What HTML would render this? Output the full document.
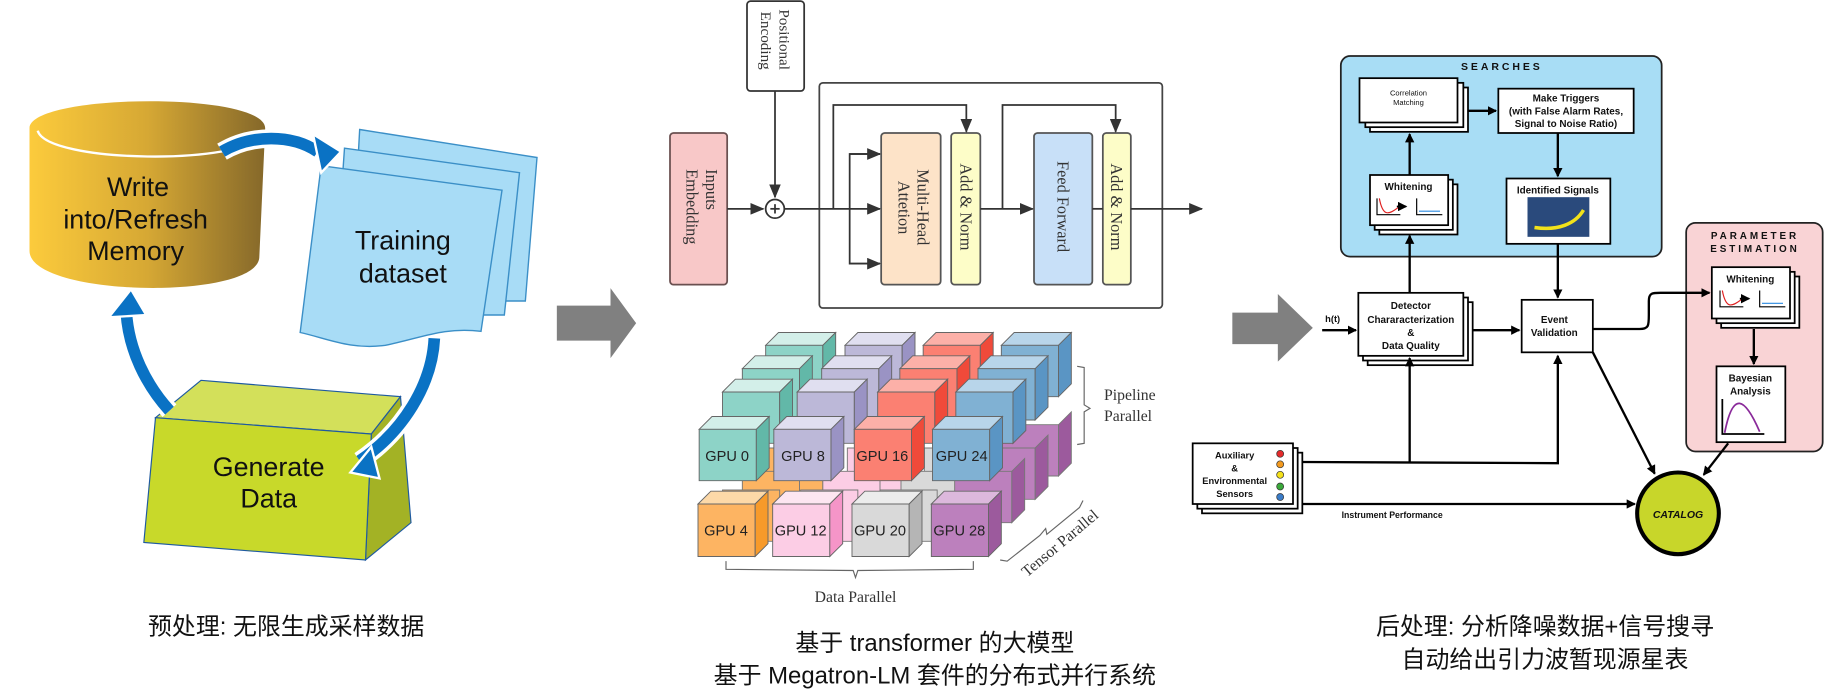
<!DOCTYPE html>
<html><head><meta charset="utf-8"><style>
html,body{margin:0;padding:0;background:#fff}
svg{display:block}
.cj{font-family:"Liberation Sans","Noto Sans CJK SC",sans-serif}
.sf{font-family:"Liberation Serif",serif}
.sa{font-family:"Liberation Sans",sans-serif}
</style></head><body>
<svg width="1830" height="700" viewBox="0 0 1568 600" xmlns="http://www.w3.org/2000/svg">
<defs>
<linearGradient id="gold" x1="0" x2="1" y1="0" y2="0"><stop offset="0" stop-color="#fccb3c"/><stop offset="0.5" stop-color="#d6a834"/><stop offset="1" stop-color="#85682a"/></linearGradient>
<marker id="ah" markerWidth="8" markerHeight="8" refX="7" refY="4" orient="auto" markerUnits="userSpaceOnUse"><path d="M0,0 L8,4 L0,8 z" fill="#000"/></marker>
<marker id="ag" markerWidth="12" markerHeight="10" refX="11" refY="5" orient="auto" markerUnits="userSpaceOnUse"><path d="M0,0 L12,5 L0,10 z" fill="#333"/></marker>
</defs>

<!-- LEFT PANEL -->
<path d="M25,110 C25,80 227,78 227,110 L222,220 C222,258 25,255 25,215 Z" fill="url(#gold)"/>
<path d="M32,112 C40,140 210,142 225,115" fill="none" stroke="#fff" stroke-width="2"/>
<g class="sa" font-size="23" fill="#111" text-anchor="middle">
<text x="118" y="168">Write</text><text x="116" y="196">into/Refresh</text><text x="116" y="223">Memory</text></g>

<g stroke="#3b8fc7" stroke-width="1.2" fill="#a8dcf6">
<path d="M308,111 L460,135 L450,258 L300,258 Z"/>
<path d="M295,127 L445,148 L432,270 L285,270 Z"/>
<path d="M275,142 L430,163 L412,284 C380,280 360,290 330,296 C300,300 280,290 257,285 Z"/>
</g>
<g class="sa" font-size="23" fill="#111" text-anchor="middle"><text x="345" y="214">Training</text><text x="345" y="242">dataset</text></g>

<path d="M133,358 L172,326 L343,340 L318,372 Z" fill="#d3e05a" stroke="#1f5aa0" stroke-width="1"/>
<path d="M318,372 L343,340 L352,448 L313,480 Z" fill="#a3b225" stroke="#1f5aa0" stroke-width="1"/>
<path d="M133,358 L318,372 L313,480 L123,465 Z" fill="#c8d92a" stroke="#1f5aa0" stroke-width="1"/>
<g class="sa" font-size="23" fill="#111" text-anchor="middle"><text x="230" y="408">Generate</text><text x="230" y="435">Data</text></g>

<!-- blue arrows -->
<g fill="none" stroke-linecap="butt">
<path d="M190,130 C215,115 250,115 272,130" stroke="#fff" stroke-width="16"/>
<path d="M190,130 C215,115 250,115 272,130" stroke="#0a72c4" stroke-width="10"/>
<path d="M372,290 C370,330 345,370 308,395" stroke="#fff" stroke-width="16"/>
<path d="M372,290 C370,330 345,370 308,395" stroke="#0a72c4" stroke-width="10"/>
<path d="M145,352 C125,330 110,300 108,268" stroke="#fff" stroke-width="16"/>
<path d="M145,352 C125,330 110,300 108,268" stroke="#0a72c4" stroke-width="10"/>
</g>
<path d="M268,115 L292,130 L275,148 Z" fill="#0a72c4" stroke="#fff" stroke-width="2"/>
<path d="M318,383 L300,405 L325,410 Z" fill="#0a72c4" stroke="#fff" stroke-width="2"/>
<path d="M93,272 L112,248 L125,270 Z" fill="#0a72c4" stroke="#fff" stroke-width="2"/>

<text class="cj" x="245" y="544" font-size="20.5" text-anchor="middle" fill="#111">预处理: 无限生成采样数据</text>

<!-- gray arrows -->
<path d="M477,262 L523,262 L523,247 L545,277 L523,307 L523,292 L477,292 Z" fill="#808080"/>
<path d="M1056,268 L1095,268 L1095,252 L1125,281 L1095,310 L1095,295 L1056,295 Z" fill="#808080"/>

<!-- MIDDLE: transformer -->
<rect x="640" y="1" width="49" height="77" rx="3" fill="#fff" stroke="#333" stroke-width="1.5"/>
<g class="sf" font-size="13" fill="#333"><text transform="translate(668,8) rotate(90)">Positional</text><text transform="translate(652,10) rotate(90)">Encoding</text></g>
<rect x="574" y="114" width="49" height="130" rx="3" fill="#f8c8c8" stroke="#6a5050" stroke-width="1.5"/>
<g class="sf" font-size="14" fill="#333"><text transform="translate(605,145) rotate(90)">Inputs</text><text transform="translate(588,145) rotate(90)">Embedding</text></g>
<rect x="702" y="71" width="294" height="193" rx="3" fill="none" stroke="#444" stroke-width="1.5"/>
<rect x="755" y="114" width="51" height="130" rx="3" fill="#fde3c8" stroke="#555" stroke-width="1.5"/>
<g class="sf" font-size="14" fill="#333"><text transform="translate(786,145) rotate(90)">Multi-Head</text><text transform="translate(770,155) rotate(90)">Attetion</text></g>
<rect x="815" y="114" width="25" height="130" rx="3" fill="#fdfdc8" stroke="#555" stroke-width="1.5"/>
<text class="sf" font-size="14" fill="#333" transform="translate(823,140) rotate(90)">Add &amp; Norm</text>
<rect x="886" y="114" width="50" height="130" rx="3" fill="#c8e0f8" stroke="#555" stroke-width="1.5"/>
<text class="sf" font-size="14" fill="#333" transform="translate(906,138) rotate(90)">Feed Forward</text>
<rect x="945" y="114" width="24" height="130" rx="3" fill="#fdfdc8" stroke="#555" stroke-width="1.5"/>
<text class="sf" font-size="14" fill="#333" transform="translate(952,140) rotate(90)">Add &amp; Norm</text>
<g stroke="#333" stroke-width="1.5" fill="none">
<line x1="664" y1="78" x2="664" y2="169" marker-end="url(#ag)"/>
<circle cx="664" cy="179" r="8" fill="#fff"/>
<line x1="660" y1="179" x2="668" y2="179"/><line x1="664" y1="175" x2="664" y2="183"/>
<line x1="623" y1="179" x2="654" y2="179" marker-end="url(#ag)"/>
<line x1="672" y1="179" x2="754" y2="179" marker-end="url(#ag)"/>
<polyline points="714,179 714,90 828,90 828,113" marker-end="url(#ag)"/>
<polyline points="754,132 728,132 728,226 754,226"/>
<line x1="728" y1="132" x2="754" y2="132" marker-end="url(#ag)"/>
<line x1="728" y1="226" x2="754" y2="226" marker-end="url(#ag)"/>
<line x1="840" y1="179" x2="885" y2="179" marker-end="url(#ag)"/>
<polyline points="859,179 859,90 956,90 956,113" marker-end="url(#ag)"/>
<line x1="936" y1="179" x2="945" y2="179"/>
<line x1="969" y1="179" x2="1030" y2="179" marker-end="url(#ag)"/>
</g>

<!-- GPU cubes -->
<g id="cubes" class="sa" font-size="12" text-anchor="middle" fill="#222" stroke-width="0.8">
<!-- bottom row back layers -->
<g stroke="#777">
<path d="M656,384 l49,0 0,44 -49,0z" fill="#fdb462"/><path d="M726,384 l49,0 0,44 -49,0z" fill="#fccde5"/><path d="M792,384 l49,0 0,44 -49,0z" fill="#d9d9d9"/><path d="M858,364 l49,0 0,44 -49,0z" fill="#bc80bd"/>
<path d="M636,404 l49,0 0,44 -49,0z" fill="#fdb462"/><path d="M705,404 l49,0 0,44 -49,0z" fill="#fccde5"/><path d="M772,404 l49,0 0,44 -49,0z" fill="#d9d9d9"/><path d="M838,384 l49,0 0,44 -49,0z" fill="#bc80bd"/>
<path d="M619,420 l49,0 0,44 -49,0z" fill="#fdb462"/><path d="M686,420 l49,0 0,44 -49,0z" fill="#fccde5"/><path d="M754,420 l49,0 0,44 -49,0z" fill="#d9d9d9"/><path d="M818,404 l49,0 0,44 -49,0z" fill="#bc80bd"/>
<path d="M907,364 l11,-11 0,44 -11,11z" fill="#9c5a9d"/><path d="M887,384 l11,-11 0,44 -11,11z" fill="#9c5a9d"/><path d="M867,404 l11,-11 0,44 -11,11z" fill="#9c5a9d"/>
</g>
</g>
<g class="sa" font-size="12.5" text-anchor="middle" fill="#222" stroke="#666" stroke-width="0.8">
<!-- top layers: layer offsets back to front -->
<!-- layer 3 -->
<path d="M656,296 l11,-11 49,0 -11,11z" fill="#d3efe9"/><path d="M656,296 l49,0 0,44 -49,0z" fill="#8dd3c7"/><path d="M705,296 l11,-11 0,44 -11,11z" fill="#62b8a8"/>
<path d="M724,296 l11,-11 49,0 -11,11z" fill="#e0dff0"/><path d="M724,296 l49,0 0,44 -49,0z" fill="#bcb8d8"/><path d="M773,296 l11,-11 0,44 -11,11z" fill="#9a93c4"/>
<path d="M791,296 l11,-11 49,0 -11,11z" fill="#fcb0a8"/><path d="M791,296 l49,0 0,44 -49,0z" fill="#fb8072"/><path d="M840,296 l11,-11 0,44 -11,11z" fill="#f04a3a"/>
<path d="M858,296 l11,-11 49,0 -11,11z" fill="#b8d5ea"/><path d="M858,296 l49,0 0,44 -49,0z" fill="#80b1d3"/><path d="M907,296 l11,-11 0,44 -11,11z" fill="#5a95c4"/>
<!-- layer 2 -->
<path d="M636,316 l11,-11 49,0 -11,11z" fill="#d3efe9"/><path d="M636,316 l49,0 0,44 -49,0z" fill="#8dd3c7"/><path d="M685,316 l11,-11 0,44 -11,11z" fill="#62b8a8"/>
<path d="M704,316 l11,-11 49,0 -11,11z" fill="#e0dff0"/><path d="M704,316 l49,0 0,44 -49,0z" fill="#bcb8d8"/><path d="M753,316 l11,-11 0,44 -11,11z" fill="#9a93c4"/>
<path d="M771,316 l11,-11 49,0 -11,11z" fill="#fcb0a8"/><path d="M771,316 l49,0 0,44 -49,0z" fill="#fb8072"/><path d="M820,316 l11,-11 0,44 -11,11z" fill="#f04a3a"/>
<path d="M838,316 l11,-11 49,0 -11,11z" fill="#b8d5ea"/><path d="M838,316 l49,0 0,44 -49,0z" fill="#80b1d3"/><path d="M887,316 l11,-11 0,44 -11,11z" fill="#5a95c4"/>
<!-- layer 1 -->
<path d="M619,336 l11,-11 49,0 -11,11z" fill="#d3efe9"/><path d="M619,336 l49,0 0,44 -49,0z" fill="#8dd3c7"/><path d="M668,336 l11,-11 0,44 -11,11z" fill="#62b8a8"/>
<path d="M683,336 l11,-11 49,0 -11,11z" fill="#e0dff0"/><path d="M683,336 l49,0 0,44 -49,0z" fill="#bcb8d8"/><path d="M732,336 l11,-11 0,44 -11,11z" fill="#9a93c4"/>
<path d="M752,336 l11,-11 49,0 -11,11z" fill="#fcb0a8"/><path d="M752,336 l49,0 0,44 -49,0z" fill="#fb8072"/><path d="M801,336 l11,-11 0,44 -11,11z" fill="#f04a3a"/>
<path d="M819,336 l11,-11 49,0 -11,11z" fill="#b8d5ea"/><path d="M819,336 l49,0 0,44 -49,0z" fill="#80b1d3"/><path d="M868,336 l11,-11 0,44 -11,11z" fill="#5a95c4"/>
<!-- front top row -->
<path d="M599,368 l11,-11 49,0 -11,11z" fill="#d3efe9"/><path d="M599,368 l49,0 0,44 -49,0z" fill="#8dd3c7"/><path d="M648,368 l11,-11 0,44 -11,11z" fill="#62b8a8"/>
<path d="M663,368 l11,-11 49,0 -11,11z" fill="#e0dff0"/><path d="M663,368 l49,0 0,44 -49,0z" fill="#bcb8d8"/><path d="M712,368 l11,-11 0,44 -11,11z" fill="#9a93c4"/>
<path d="M732,368 l11,-11 49,0 -11,11z" fill="#fcb0a8"/><path d="M732,368 l49,0 0,44 -49,0z" fill="#fb8072"/><path d="M781,368 l11,-11 0,44 -11,11z" fill="#f04a3a"/>
<path d="M799,368 l11,-11 49,0 -11,11z" fill="#b8d5ea"/><path d="M799,368 l49,0 0,44 -49,0z" fill="#80b1d3"/><path d="M848,368 l11,-11 0,44 -11,11z" fill="#5a95c4"/>
<!-- front bottom row -->
<path d="M598,432 l11,-11 49,0 -11,11z" fill="#fdd9a8"/><path d="M598,432 l49,0 0,45 -49,0z" fill="#fdb462"/><path d="M647,432 l11,-11 0,45 -11,11z" fill="#f79a2a"/>
<path d="M662,432 l11,-11 49,0 -11,11z" fill="#fde6f1"/><path d="M662,432 l49,0 0,45 -49,0z" fill="#fccde5"/><path d="M711,432 l11,-11 0,45 -11,11z" fill="#f595c8"/>
<path d="M730,432 l11,-11 49,0 -11,11z" fill="#ececec"/><path d="M730,432 l49,0 0,45 -49,0z" fill="#d9d9d9"/><path d="M779,432 l11,-11 0,45 -11,11z" fill="#b5b5b5"/>
<path d="M798,432 l11,-11 49,0 -11,11z" fill="#dcb8dc"/><path d="M798,432 l49,0 0,45 -49,0z" fill="#bc80bd"/><path d="M847,432 l11,-11 0,45 -11,11z" fill="#9c5a9d"/>
</g>
<g class="sa" font-size="12.5" text-anchor="middle" fill="#222">
<text x="623" y="395">GPU 0</text><text x="688" y="395">GPU 8</text><text x="756" y="395">GPU 16</text><text x="824" y="395">GPU 24</text>
<text x="622" y="459">GPU 4</text><text x="686" y="459">GPU 12</text><text x="754" y="459">GPU 20</text><text x="822" y="459">GPU 28</text>
</g>
<g fill="none" stroke="#666" stroke-width="1">
<path d="M923,314 l6,1 0,32 5,3 -5,3 0,27 -6,1"/>
<path d="M622,481 l0,7 109,1 2,6 2,-6 99,-1 0,-7"/>
<path d="M857,480 l6,1 28,-22 5,-6 1,5 28,-23 3,-6"/>
</g>
<g class="sf" font-size="13.5" fill="#333"><text x="946" y="343">Pipeline</text><text x="946" y="361">Parallel</text><text x="733" y="516" text-anchor="middle">Data Parallel</text>
<text transform="translate(880,495) rotate(-40)">Tensor Parallel</text></g>

<text class="cj" x="801" y="558" font-size="20.5" text-anchor="middle" fill="#111">基于 transformer 的大模型</text>
<text class="cj" x="801" y="586" font-size="20.5" text-anchor="middle" fill="#111">基于 Megatron-LM 套件的分布式并行系统</text>

<!-- RIGHT PANEL -->
<rect x="1149" y="48" width="275" height="172" rx="8" fill="#a8ddf5" stroke="#222" stroke-width="1.5"/>
<text class="sa" x="1287" y="60" font-size="9" font-weight="bold" letter-spacing="2.5" text-anchor="middle" fill="#111">SEARCHES</text>
<rect x="1445" y="191" width="117" height="196" rx="8" fill="#f9d3d5" stroke="#222" stroke-width="1.5"/>
<g class="sa" font-size="8.5" font-weight="bold" letter-spacing="2.5" text-anchor="middle" fill="#111"><text x="1504" y="205">PARAMETER</text><text x="1504" y="216">ESTIMATION</text></g>

<g fill="#fff" stroke="#000" stroke-width="1.5">
<rect x="1174" y="75" width="84" height="38"/><rect x="1170" y="71" width="84" height="38"/><rect x="1165" y="67" width="84" height="38"/>
<rect x="1284" y="76" width="116" height="38"/>
<rect x="1182" y="158" width="67" height="43"/><rect x="1178" y="154" width="67" height="43"/><rect x="1174" y="150" width="67" height="43"/>
<rect x="1291" y="153" width="89" height="56"/>
<rect x="1172" y="259" width="90" height="54"/><rect x="1168" y="255" width="90" height="54"/><rect x="1164" y="251" width="90" height="54"/>
<rect x="1304" y="257" width="61" height="45"/>
<rect x="1475" y="237" width="67" height="44"/><rect x="1471" y="233" width="67" height="44"/><rect x="1467" y="229" width="67" height="44"/>
<rect x="1471" y="314" width="59" height="65"/>
<rect x="1030" y="388" width="86" height="52"/><rect x="1026" y="384" width="86" height="52"/><rect x="1022" y="380" width="86" height="52"/>
</g>
<rect x="1309" y="169" width="53" height="34" fill="#2a4a7c"/>
<path d="M1315,195 C1335,198 1350,192 1357,180" fill="none" stroke="#f2e21a" stroke-width="3"/>

<g class="sa" fill="#111" text-anchor="middle">
<text x="1207" y="82" font-size="6.5">Correlation</text><text x="1207" y="90" font-size="6.5">Matching</text>
<g font-weight="bold" font-size="8.5"><text x="1342" y="87">Make Triggers</text><text x="1342" y="98">(with False Alarm Rates,</text><text x="1342" y="109">Signal to Noise Ratio)</text>
<text x="1207" y="163">Whitening</text><text x="1335" y="166">Identified Signals</text>
<text x="1209" y="265">Detector</text><text x="1209" y="277">Chararacterization</text><text x="1209" y="288">&amp;</text><text x="1209" y="299">Data Quality</text>
<text x="1332" y="277">Event</text><text x="1332" y="288">Validation</text>
<text x="1500" y="242">Whitening</text><text x="1500" y="327">Bayesian</text><text x="1500" y="338">Analysis</text>
<text x="1142" y="276" font-size="8">h(t)</text>
<text x="1058" y="393" font-size="8">Auxiliary</text><text x="1058" y="404" font-size="8">&amp;</text><text x="1058" y="415" font-size="8">Environmental</text><text x="1058" y="426" font-size="8">Sensors</text>
<text x="1193" y="444" font-size="7.5">Instrument Performance</text>
</g>
<text x="1438" y="443" font-size="9" font-weight="bold" font-style="italic">CATALOG</text>
</g>
<!-- sensor dots -->
<g stroke="#333" stroke-width="0.6"><circle cx="1097" cy="389" r="3" fill="#e52b2b"/><circle cx="1097" cy="398" r="3" fill="#f39a1f"/><circle cx="1097" cy="407" r="3" fill="#f5e11a"/><circle cx="1097" cy="417" r="3" fill="#3aa83a"/><circle cx="1097" cy="426" r="3" fill="#3a7cc8"/></g>
<!-- mini plots -->
<g fill="none" stroke-width="1">
<path d="M1180,170 L1180,184 L1200,184" stroke="#000"/><path d="M1182,170 C1185,186 1190,184 1198,178" stroke="#e02020"/>
<path d="M1214,170 L1214,184 L1236,184" stroke="#000"/><path d="M1216,181 L1234,181" stroke="#2a8ae0"/>
<path d="M1474,249 L1474,263 L1494,263" stroke="#000"/><path d="M1476,249 C1479,265 1484,263 1492,257" stroke="#e02020"/>
<path d="M1508,249 L1508,263 L1530,263" stroke="#000"/><path d="M1510,260 L1528,260" stroke="#2a8ae0"/>
<path d="M1476,342 L1476,372 L1512,372" stroke="#000" stroke-width="1.5"/>
<path d="M1478,371 C1485,335 1495,340 1508,370" stroke="#8a2a9a" stroke-width="1.5"/>
</g>
<path d="M1197,177 L1205,177" stroke="#000" stroke-width="1.5" marker-end="url(#ah)"/>
<path d="M1491,256 L1499,256" stroke="#000" stroke-width="1.5" marker-end="url(#ah)"/>

<ellipse cx="1438" cy="440" rx="35" ry="35" fill="#c8d62a" stroke="#000" stroke-width="3.5"/>
<text class="sa" x="1438" y="444" font-size="9" font-weight="bold" font-style="italic" text-anchor="middle" fill="#111">CATALOG</text>

<g stroke="#000" stroke-width="2" fill="none">
<line x1="1258" y1="95" x2="1282" y2="95" marker-end="url(#ah)"/>
<line x1="1208" y1="150" x2="1208" y2="115" marker-end="url(#ah)"/>
<line x1="1335" y1="114" x2="1335" y2="151" marker-end="url(#ah)"/>
<line x1="1208" y1="251" x2="1208" y2="202" marker-end="url(#ah)"/>
<line x1="1133" y1="283" x2="1162" y2="283" marker-end="url(#ah)"/>
<line x1="1262" y1="283" x2="1302" y2="283" marker-end="url(#ah)"/>
<line x1="1335" y1="209" x2="1335" y2="255" marker-end="url(#ah)"/>
<path d="M1365,282 L1405,282 C1413,282 1413,279 1413,270 L1413,258 C1413,251 1416,251 1423,251 L1465,251" marker-end="url(#ah)"/>
<line x1="1503" y1="282" x2="1503" y2="312" marker-end="url(#ah)"/>
<line x1="1365" y1="302" x2="1418" y2="406" marker-end="url(#ah)"/>
<line x1="1481" y1="380" x2="1460" y2="407" marker-end="url(#ah)"/>
<polyline points="1116,396 1335,397 1335,305" marker-end="url(#ah)"/>
<line x1="1208" y1="397" x2="1208" y2="307" marker-end="url(#ah)"/>
<line x1="1116" y1="432" x2="1401" y2="432" marker-end="url(#ah)"/>
</g>

<text class="cj" x="1324" y="544" font-size="20.5" text-anchor="middle" fill="#111">后处理: 分析降噪数据+信号搜寻</text>
<text class="cj" x="1324" y="572" font-size="20.5" text-anchor="middle" fill="#111">自动给出引力波暂现源星表</text>
</svg>
</body></html>
